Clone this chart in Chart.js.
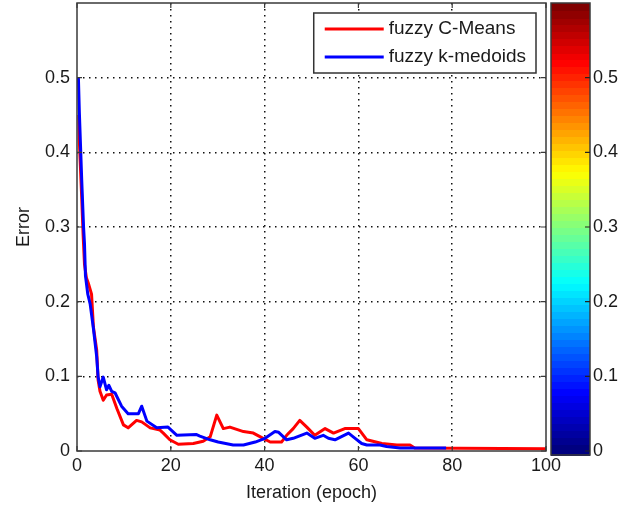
<!DOCTYPE html>
<html><head><meta charset="utf-8">
<script src="https://cdn.jsdelivr.net/npm/chart.js@4/dist/chart.umd.min.js"></script>
<style>html,body{margin:0;padding:0;background:#fff;}#wrap{width:636px;height:508px;}</style>
</head><body><div id="wrap"><canvas id="c" width="636" height="508"></canvas></div>
<script>
// ---- data ----
const seriesNames = ['fuzzy C-Means', 'fuzzy k-medoids'];
const cmEpoch = [0.4,0.5,0.8,1.0,1.3,1.6,2.0,2.4,3.1,3.5,4.2,4.5,4.9,5.6,6.3,7.4,8.5,9.9,10.9,12.7,13.8,15.6,17.7,18.4,19.8,21.6,24.8,26.9,28.4,29.8,31.2,32.6,35.5,37.6,39.7,41.2,43.6,44.7,46.1,47.5,49.0,50.7,52.9,54.7,57.1,60.0,61.8,65.0,68.2,71.0,72.0,100];
const cmError = [0.45,0.415,0.37,0.34,0.29,0.25,0.232,0.225,0.21,0.166,0.135,0.095,0.08,0.068,0.075,0.076,0.057,0.035,0.031,0.041,0.039,0.031,0.028,0.024,0.015,0.009,0.010,0.013,0.019,0.048,0.030,0.032,0.026,0.024,0.017,0.012,0.012,0.021,0.030,0.041,0.032,0.021,0.030,0.024,0.030,0.030,0.015,0.010,0.008,0.008,0.004,0.003];
const kmEpoch = [0.3,0.5,0.8,1.0,1.4,1.6,1.8,2.3,2.8,3.5,4.2,4.5,4.9,5.6,6.3,6.8,7.4,8.1,9.5,10.9,13.1,13.8,14.9,17.0,19.4,21.3,25.5,26.2,28.4,30.1,33.3,35.5,38.0,40.1,42.2,43.0,44.7,46.1,49.0,50.7,52.5,53.6,55.0,57.9,59.3,60.7,61.8,64.6,66.0,68.9,78.7];
const kmError = [0.5,0.454,0.40,0.364,0.30,0.277,0.235,0.21,0.197,0.164,0.126,0.099,0.086,0.099,0.082,0.088,0.080,0.078,0.060,0.050,0.050,0.060,0.040,0.031,0.032,0.021,0.022,0.020,0.015,0.012,0.008,0.008,0.012,0.017,0.026,0.025,0.015,0.017,0.024,0.017,0.021,0.017,0.015,0.024,0.017,0.010,0.008,0.008,0.006,0.004,0.004];
const xTicks = [0,20,40,60,80,100];
const yTicks = [0,0.1,0.2,0.3,0.4,0.5];
const cbTicks = [0,0.1,0.2,0.3,0.4,0.5];
const xTitle = 'Iteration (epoch)';
const yTitle = 'Error';

const FONT = {family: '"Liberation Sans", Arial, Helvetica, sans-serif', size: 18};
const LEGEND_FONT_SIZE = 19;
const INK = '#1a1a1a';

function jet(t) {
  const c = v => Math.max(0, Math.min(1, v));
  const r = c(1.5 - Math.abs(4*t - 3)), g = c(1.5 - Math.abs(4*t - 2)), b = c(1.5 - Math.abs(4*t - 1));
  return 'rgb(' + Math.round(r*255) + ',' + Math.round(g*255) + ',' + Math.round(b*255) + ')';
}
function noPad(s) { s.paddingTop = 0; s.paddingBottom = 0; s.paddingLeft = 0; s.paddingRight = 0; }

const framePlugin = {
  id: 'frame',
  afterDatasetsDraw(chart) {
    const {ctx, chartArea: a, scales} = chart;
    ctx.save();
    ctx.strokeStyle = '#3a3a3a';
    ctx.lineWidth = 1.5;
    ctx.strokeRect(a.left, a.top, a.right - a.left, a.bottom - a.top);
    ctx.lineWidth = 1.2;
    ctx.beginPath();
    const tl = 5;
    xTicks.forEach(v => {
      const px = scales.x.getPixelForValue(v);
      ctx.moveTo(px, a.bottom); ctx.lineTo(px, a.bottom - tl);
      ctx.moveTo(px, a.top); ctx.lineTo(px, a.top + tl);
    });
    yTicks.forEach(v => {
      const py = scales.y.getPixelForValue(v);
      ctx.moveTo(a.left, py); ctx.lineTo(a.left + tl, py);
      ctx.moveTo(a.right, py); ctx.lineTo(a.right - tl, py);
    });
    ctx.stroke();
    ctx.restore();
  }
};

const legendPlugin = {
  id: 'mlegend',
  afterDraw(chart) {
    const {ctx, chartArea: a} = chart;
    const colors = chart.data.datasets.map(d => d.borderColor);
    ctx.save();
    ctx.font = LEGEND_FONT_SIZE + 'px ' + FONT.family;
    const tw = Math.max(...seriesNames.map(s => ctx.measureText(s).width));
    const w = 75 + tw + 10, h = 60;
    const left = a.right - 10 - w, top = a.top + 10;
    ctx.fillStyle = '#fff';
    ctx.fillRect(left, top, w, h);
    ctx.strokeStyle = '#333';
    ctx.lineWidth = 1.5;
    ctx.strokeRect(left, top, w, h);
    seriesNames.forEach((s, i) => {
      const cy = top + 16 + i * 28;
      ctx.strokeStyle = colors[i];
      ctx.lineWidth = 3;
      ctx.beginPath(); ctx.moveTo(left + 11, cy); ctx.lineTo(left + 70, cy); ctx.stroke();
      ctx.fillStyle = INK;
      ctx.textBaseline = 'middle';
      ctx.textAlign = 'left';
      ctx.fillText(s, left + 75, cy);
    });
    ctx.restore();
  }
};

const colorbarPlugin = {
  id: 'colorbar',
  afterDraw(chart) {
    const {ctx, chartArea: a} = chart;
    const cb = chart.scales.cb;
    const x0 = a.right + 5, x1 = a.right + 44;
    const n = 64;
    ctx.save();
    for (let i = 0; i < n; i++) {
      const v0 = cb.min + (cb.max - cb.min) * i / n;
      const v1 = cb.min + (cb.max - cb.min) * (i + 1) / n;
      let yA = cb.getPixelForValue(v0), yB = cb.getPixelForValue(v1);
      if (i === 0) yA += 4;
      ctx.fillStyle = jet(i / (n - 1));
      ctx.fillRect(x0, Math.floor(yB), x1 - x0, Math.ceil(yA) - Math.floor(yB) + 1);
    }
    ctx.strokeStyle = '#3a3a3a';
    ctx.lineWidth = 1.5;
    ctx.strokeRect(x0, a.top, x1 - x0, cb.getPixelForValue(0) + 4 - a.top);
    ctx.lineWidth = 1.2;
    ctx.strokeStyle = '#222';
    ctx.beginPath();
    cbTicks.forEach(v => {
      const py = cb.getPixelForValue(v);
      ctx.moveTo(x1, py); ctx.lineTo(x1 - 5, py);
    });
    ctx.stroke();
    ctx.restore();
  }
};

const ctx = document.getElementById('c').getContext('2d');
new Chart(ctx, {
  type: 'line',
  data: {
    datasets: [
      {label: seriesNames[0], data: cmEpoch.map((x, i) => ({x, y: cmError[i]})), borderColor: '#ff0000', borderWidth: 3, pointRadius: 0, tension: 0, order: 1, borderJoinStyle: 'round'},
      {label: seriesNames[1], data: kmEpoch.map((x, i) => ({x, y: kmError[i]})), borderColor: '#0000ff', borderWidth: 3, pointRadius: 0, tension: 0, order: 0, borderJoinStyle: 'round'}
    ]
  },
  options: {
    responsive: false,
    animation: false,
    devicePixelRatio: 1,
    layout: {padding: {left: 0, top: 3, right: 0, bottom: 0}},
    plugins: {legend: {display: false}, tooltip: {enabled: false}},
    scales: {
      x: {
        type: 'linear', min: 0, max: 100,
        afterBuildTicks: s => { s.ticks = xTicks.map(v => ({value: v})); },
        afterFit: s => { s.height = 57; noPad(s); },
        grid: {color: c => (c.tick && (c.tick.value === 0 || c.tick.value === 100)) ? 'rgba(0,0,0,0)' : '#111', lineWidth: 1.5, drawTicks: false},
        border: {display: false, dash: [1.5, 4.5]},
        ticks: {font: FONT, color: INK, padding: 4, maxRotation: 0},
        title: {display: true, text: xTitle, font: FONT, color: INK, padding: {top: 0, bottom: 4}}
      },
      y: {
        type: 'linear', min: 0, max: 0.6, position: 'left',
        afterBuildTicks: s => { s.ticks = yTicks.map(v => ({value: v})); },
        afterFit: s => { s.width = 77; noPad(s); },
        grid: {color: c => (c.tick && c.tick.value === 0) ? 'rgba(0,0,0,0)' : '#111', lineWidth: 1.5, drawTicks: false},
        border: {display: false, dash: [1.5, 4.5]},
        ticks: {font: FONT, color: INK, padding: 7, callback: v => String(v)},
        title: {display: true, text: yTitle, font: FONT, color: INK, padding: {top: 13, bottom: 0}}
      },
      cb: {
        type: 'linear', min: 0, max: 0.6, position: 'right',
        afterBuildTicks: s => { s.ticks = cbTicks.map(v => ({value: v})); },
        afterFit: s => { s.width = 90; noPad(s); },
        grid: {display: false, drawTicks: false},
        border: {display: false},
        ticks: {font: FONT, color: INK, padding: 47, callback: v => String(v)}
      }
    }
  },
  plugins: [framePlugin, colorbarPlugin, legendPlugin]
});
</script>
</body></html>
